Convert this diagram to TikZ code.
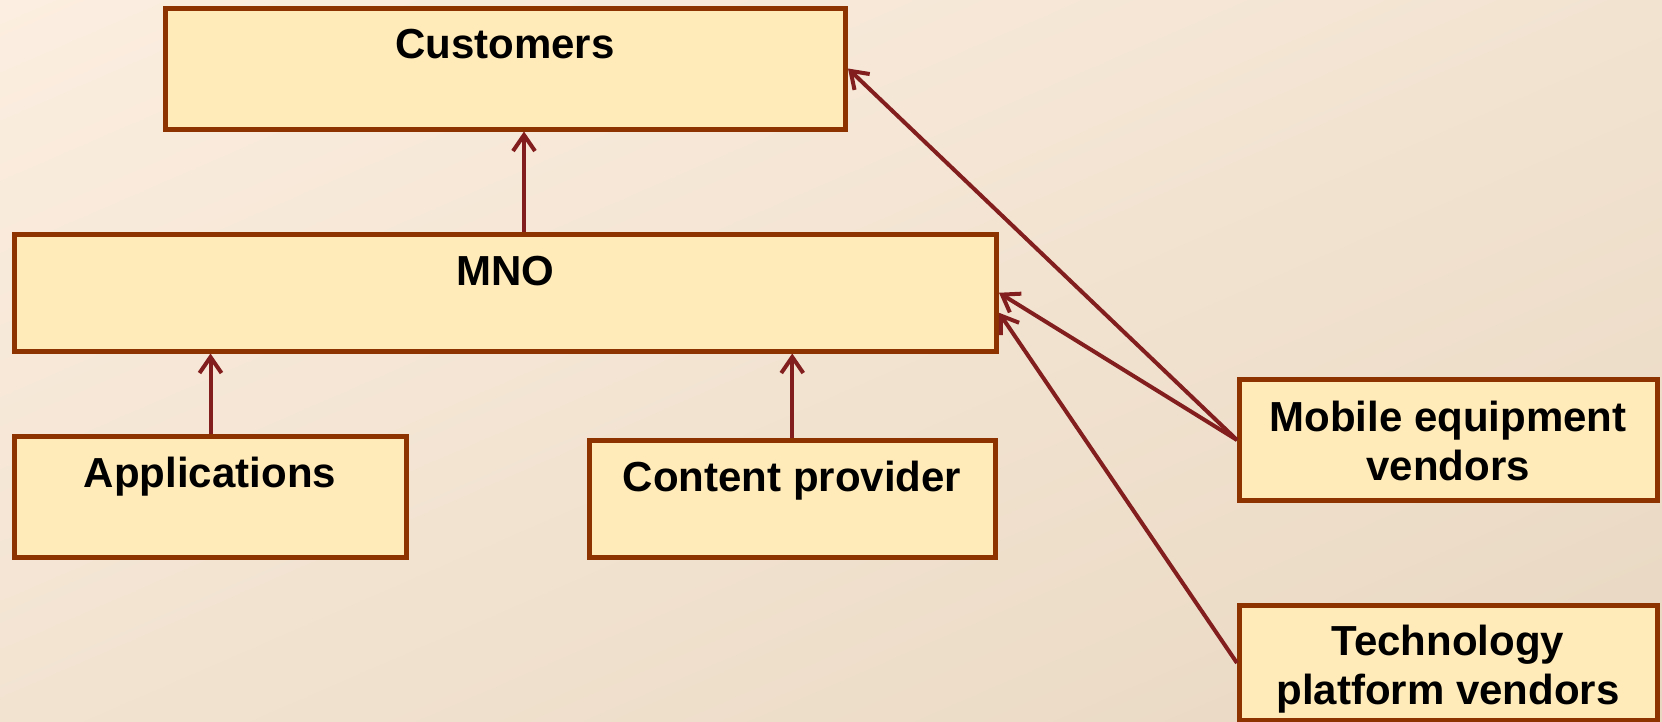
\documentclass[tikz,border=0pt]{standalone}
\usepackage{fontspec}
\setmainfont{Liberation Sans}
\usetikzlibrary{arrows.meta,calc,shadings}
\definecolor{bgA}{HTML}{FCEEE0}
\definecolor{bgB}{HTML}{E8D8C2}
\definecolor{bgM}{HTML}{F2E3D1}
\definecolor{boxfill}{HTML}{FFEBB9}
\definecolor{boxline}{HTML}{8C3300}
\definecolor{conncol}{HTML}{821E1E}
\tikzset{
  box/.style={draw=boxline, fill=boxfill, line width=5pt, rectangle, inner sep=0pt},
  lbl/.style={font=\fontsize{42pt}{49pt}\selectfont\bfseries, text=black, inner sep=0pt, align=center},
  conn/.style={draw=conncol, line width=4pt, -{Straight Barb[length=16pt,width=22pt]}}
}
\begin{document}
\begin{tikzpicture}[x=1pt,y=-1pt]
\useasboundingbox (0,0) rectangle (1662,721);
\shade[upper left=bgA, lower right=bgB, upper right=bgM, lower left=bgM] (0,0) rectangle (1662,721);
\begin{scope}
\clip (0,0) rectangle (1662,721);
% boxes
\node[box, minimum width=680.5pt, minimum height=121pt] (cust) at (505.25,68.5) {};
\node[box, minimum width=982pt, minimum height=116.5pt] (mno) at (505.5,292.75) {};
\node[box, minimum width=392pt, minimum height=121pt] (app) at (210.5,497) {};
\node[box, minimum width=406.5pt, minimum height=117pt] (cont) at (792.25,499) {};
\node[box, minimum width=418pt, minimum height=121pt] (mob) at (1448.5,440) {};
\node[box, minimum width=418pt, minimum height=115pt] (tech) at (1448.5,663) {};
% labels
\node[lbl, anchor=base] (custt) at (505,58) {Customers};
\node[lbl, anchor=base] (mnot) at (505.5,285) {MNO};
\node[lbl, anchor=base] (appt) at (210,487) {Applications};
\node[lbl, anchor=base] (contt) at (792,491) {Content provider};
\node[lbl, anchor=base] (mobt1) at (1448,431) {Mobile equipment};
\node[lbl, anchor=base] (mobt2) at (1448,480) {vendors};
\node[lbl, anchor=base] (techt1) at (1448,655) {Technology};
\node[lbl, anchor=base] (techt2) at (1448,704) {platform vendors};
% connectors
\coordinate (a1) at ([xshift=18.5pt]mno.north);
\draw[conn] (a1) -- (a1 |- cust.south);
\draw[conn] (app.north) -- (app.north |- mno.south);
\draw[conn] (cont.north) -- (cont.north |- mno.south);
\draw[conn] (mob.west) -- (cust.east);
\draw[conn] (mob.west) -- (mno.east);
\draw[conn] (tech.west) -- ([yshift=-20pt]mno.east);
\end{scope}
\end{tikzpicture}
\end{document}
